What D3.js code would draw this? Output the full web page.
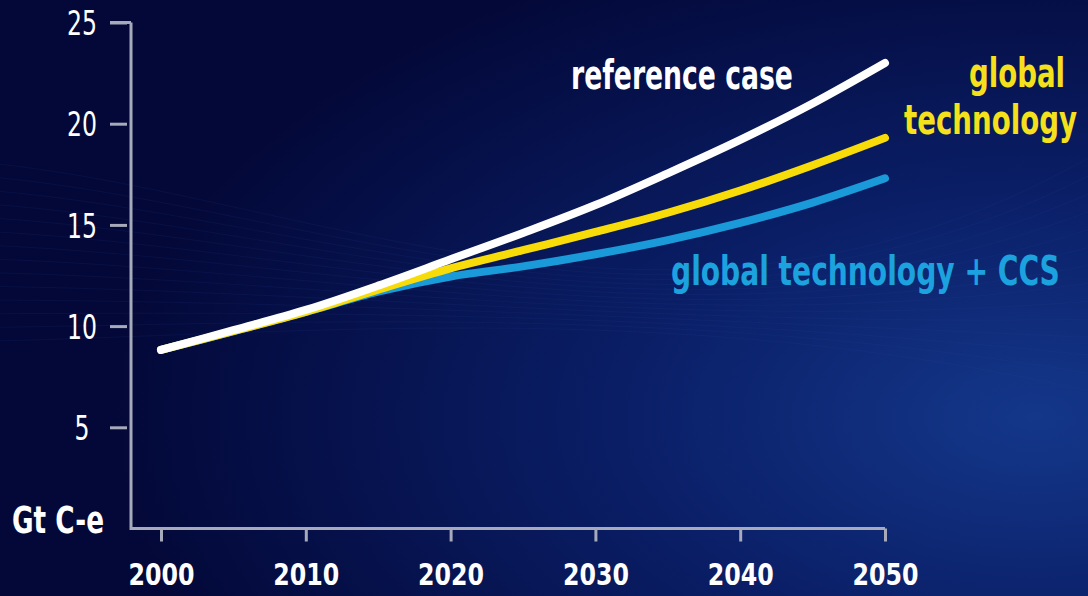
<!DOCTYPE html>
<html>
<head>
<meta charset="utf-8">
<script src="https://cdn.jsdelivr.net/npm/d3@7"></script>
<style>
  html, body { margin: 0; padding: 0; background: #040a3c; }
  svg { display: block; }
  text { font-family: "DejaVu Sans Condensed", "DejaVu Sans", sans-serif; }
</style>
</head>
<body>
<svg id="chart" width="1088" height="596"></svg>
<script>
// data (Gt C-e)
var years = [2000, 2005, 2010, 2015, 2020, 2025, 2030, 2035, 2040, 2045, 2050];
var referenceCase = [8.82, 9.8, 10.8, 12.0, 13.3, 14.6, 15.98, 17.55, 19.2, 21.0, 23.0];
var globalTech    = [8.82, 9.75, 10.7, 11.8, 12.85, 13.75, 14.65, 15.6, 16.7, 17.95, 19.3];
var globalTechCCS = [8.82, 9.75, 10.7, 11.7, 12.45, 12.95, 13.55, 14.25, 15.1, 16.1, 17.3];
var xTicks = [2000, 2010, 2020, 2030, 2040, 2050];
var yTicks = [5, 10, 15, 20, 25];

var svg = d3.select("#chart");
var width = 1088, height = 596;

// background
var defs = svg.append("defs");
var bg = defs.append("radialGradient").attr("id", "bg")
    .attr("cx", "0.95").attr("cy", "0.7").attr("r", "0.85");
bg.append("stop").attr("offset", "0").attr("stop-color", "#14378a");
bg.append("stop").attr("offset", "0.45").attr("stop-color", "#0a1e66");
bg.append("stop").attr("offset", "1").attr("stop-color", "#030838");
svg.append("rect").attr("width", width).attr("height", height).attr("fill", "url(#bg)");

// faint swoosh lines in the background
var sw = svg.append("g").attr("fill", "none").attr("stroke", "#2a4aa0").attr("stroke-opacity", 0.12).attr("stroke-width", 1);
d3.range(0, 14).forEach(function (i) {
    sw.append("path").attr("d", "M" + (-50) + "," + (160 + i * 14) + " C 300," + (180 + i * 12) + " 700," + (420 - i * 10) + " 1150," + (120 + i * 22));
});

var x = d3.scaleLinear().domain([2000, 2050]).range([161, 885]);
var y = d3.scaleLinear().domain([0, 25]).range([528.5, 22.5]);

var axisColor = "#a7aabb";

// squeeze a text horizontally to a target width (the original font is condensed)
function squeeze(sel, w, anchorX, baseY) {
    sel.each(function (d) {
        var el = d3.select(this);
        var nat = this.getComputedTextLength();
        var tw = typeof w === "function" ? w(d) : w;
        var tx = typeof anchorX === "function" ? anchorX(d) : anchorX;
        var ty = typeof baseY === "function" ? baseY(d) : baseY;
        el.attr("x", 0).attr("y", 0)
          .attr("transform", "translate(" + tx + "," + ty + ") scale(" + (tw / nat) + ",1)");
    });
}

// y axis
var yAxis = svg.append("g").attr("transform", "translate(131,0)")
    .call(d3.axisLeft(y).tickValues(yTicks).tickSize(21).tickSizeOuter(0));
// x axis
var xAxis = svg.append("g").attr("transform", "translate(0,528.5)")
    .call(d3.axisBottom(x).tickValues(xTicks).tickSize(13).tickFormat(d3.format("d")).tickSizeOuter(0));

[yAxis, xAxis].forEach(function (a) {
    a.select(".domain").remove();
    a.selectAll(".tick line").attr("stroke", axisColor).attr("stroke-width", 3);
});
yAxis.selectAll(".tick line").attr("x2", -21).attr("x1", -4);
yAxis.selectAll(".tick text")
    .attr("dy", "0.36em").attr("text-anchor", "middle")
    .attr("fill", "#ffffff").attr("font-size", 34)
    .call(squeeze, function (d) { return String(d).length * 15; }, -49, 0);
xAxis.selectAll(".tick text")
    .attr("dy", null).attr("fill", "#ffffff").attr("font-size", 31).attr("font-weight", "bold")
    .call(squeeze, function (d) { return String(d).length * 16.5; }, 0, 56);

// axis frame lines
svg.append("path")
    .attr("d", "M" + 131 + "," + y(25) + " V" + y(0) + " H" + x(2050))
    .attr("fill", "none").attr("stroke", axisColor).attr("stroke-width", 3);
svg.append("line").attr("x1", 110).attr("x2", 131).attr("y1", y(25)).attr("y2", y(25))
    .attr("stroke", axisColor).attr("stroke-width", 3);

svg.append("text").attr("fill", "#ffffff")
    .attr("font-size", 37).attr("font-weight", "bold").text("Gt C-e")
    .call(squeeze, 92, 12, 533);

// lines
var line = d3.line()
    .x(function (d, i) { return x(years[i]); })
    .y(function (d) { return y(d); })
    .curve(d3.curveCatmullRom.alpha(0.5));

var series = [
    { name: "ccs", values: globalTechCCS, color: "#1a9ad8" },
    { name: "tech", values: globalTech, color: "#f7dc0a" },
    { name: "ref", values: referenceCase, color: "#ffffff" }
];
svg.append("g").selectAll("path").data(series).enter().append("path")
    .attr("d", function (d) { return line(d.values); })
    .attr("fill", "none")
    .attr("stroke", function (d) { return d.color; })
    .attr("stroke-width", 8)
    .attr("stroke-linecap", "round");

// labels
var labelData = [
    { text: "reference case", x: 571, y: 89, w: 222, color: "#ffffff" },
    { text: "global", x: 969, y: 87, w: 96, color: "#f5e01c" },
    { text: "technology", x: 904, y: 134, w: 173, color: "#f5e01c" },
    { text: "global technology + CCS", x: 671, y: 285, w: 389, color: "#1ca2de" }
];
svg.append("g").selectAll("text").data(labelData).enter().append("text")
    .attr("fill", function (d) { return d.color; })
    .attr("font-size", 40).attr("font-weight", "bold")
    .text(function (d) { return d.text; })
    .call(squeeze, function (d) { return d.w; }, function (d) { return d.x; }, function (d) { return d.y; });
</script>
</body>
</html>
